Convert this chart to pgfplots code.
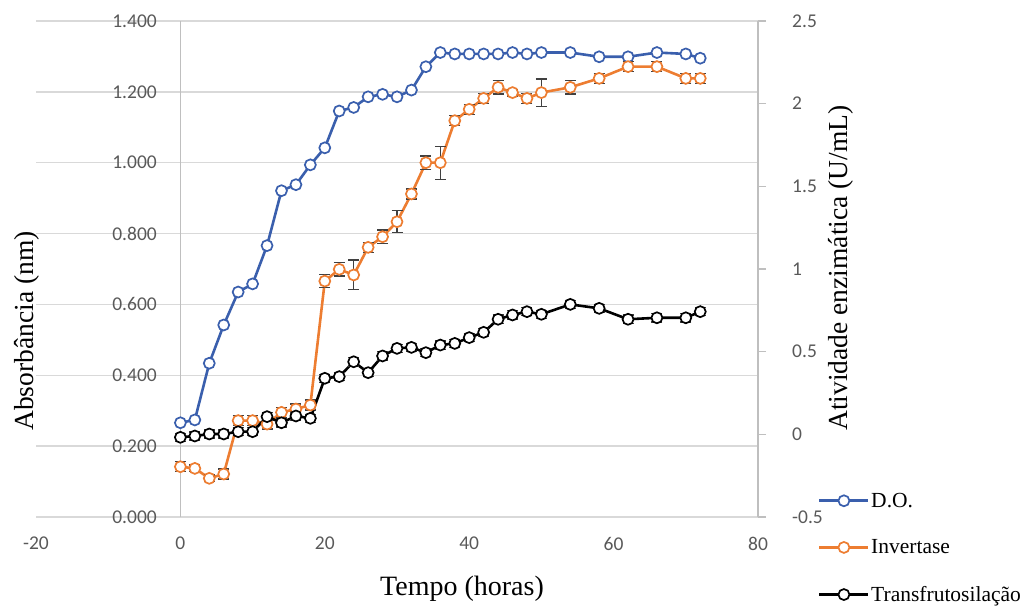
\documentclass[border=0pt]{standalone}
\usepackage{fontspec}
\setmainfont{Liberation Serif}
\newfontfamily\tickfont{Carlito}
\usepackage{pgfplots}
\usepackage{pgfplotstable}
\pgfplotsset{compat=1.18}

\definecolor{doblue}{HTML}{3A5FAD}
\definecolor{invorange}{HTML}{ED7D31}
\definecolor{gridgray}{HTML}{D9D9D9}
\definecolor{axisgray}{HTML}{BFBFBF}
\definecolor{ticktext}{HTML}{595959}

% D.O. (left axis)
\pgfplotstableread{
x y
0 0.266
2 0.274
4 0.434
6 0.542
8 0.635
10 0.658
12 0.766
14 0.921
16 0.938
18 0.994
20 1.042
22 1.146
24 1.156
26 1.186
28 1.193
30 1.186
32 1.205
34 1.271
36 1.311
38 1.307
40 1.307
42 1.307
44 1.307
46 1.311
48 1.307
50 1.311
54 1.311
58 1.299
62 1.299
66 1.311
70 1.307
72 1.295
}\dotable

% Invertase (right axis), with error
\pgfplotstableread{
x y e
0 -0.196 0.03
2 -0.206 0.02
4 -0.266 0.02
6 -0.240 0.03
8 0.083 0.03
10 0.083 0.03
12 0.062 0.03
14 0.133 0.03
16 0.153 0.03
18 0.177 0.03
20 0.927 0.04
22 0.998 0.04
24 0.964 0.09
26 1.131 0.03
28 1.195 0.04
30 1.286 0.067
32 1.454 0.03
34 1.643 0.04
36 1.643 0.10
38 1.897 0.03
40 1.966 0.03
42 2.032 0.03
44 2.099 0.04
46 2.067 0.02
48 2.032 0.03
50 2.067 0.083
54 2.099 0.04
58 2.153 0.03
62 2.224 0.03
66 2.224 0.03
70 2.153 0.03
72 2.153 0.03
}\invtable

% Transfrutosilacao (right axis), with error
\pgfplotstableread{
x y e
0 -0.018 0.025
2 -0.010 0.025
4 0.002 0.025
6 0.002 0.025
8 0.016 0.025
10 0.016 0.025
12 0.107 0.025
14 0.070 0.025
16 0.111 0.025
18 0.097 0.025
20 0.339 0.025
22 0.349 0.025
24 0.439 0.025
26 0.373 0.025
28 0.474 0.025
30 0.520 0.025
32 0.526 0.025
34 0.494 0.025
36 0.540 0.025
38 0.550 0.025
40 0.585 0.025
42 0.617 0.025
44 0.696 0.025
46 0.722 0.025
48 0.742 0.025
50 0.726 0.025
54 0.786 0.025
58 0.762 0.025
62 0.696 0.025
66 0.705 0.025
70 0.705 0.025
72 0.742 0.025
}\trtable

\pgfplotsset{
  tickfnt/.style={font=\tickfont\fontsize{19.5}{20}\selectfont, text=ticktext},
  serie/.style={line width=2.6pt, mark=*, mark size=5.5pt,
    mark options={draw=#1, fill=white, line width=1.7pt, solid}, #1},
  ebars/.style={error bars/.cd, y dir=both, y explicit,
    error bar style={black!75, line width=1.3pt},
    error mark options={rotate=90, mark size=5.5pt, black!75, line width=1.3pt}},
}

\begin{document}
\begin{tikzpicture}[x=1pt,y=1pt]
\path[use as bounding box] (0,0) rectangle (1033,606);

\begin{axis}[
  at={(36pt,89pt)}, anchor=south west,
  scale only axis, width=722pt, height=496pt,
  xmin=-20, xmax=80, ymin=0, ymax=1.4,
  axis line style={draw=none},
  tick style={draw=none},
  xtick={-20,0,20,40,60,80},
  xticklabels={-20,0,20,40,60,80},
  ytick={0,0.2,0.4,0.6,0.8,1.0,1.2,1.4},
  yticklabels={0.000,0.200,0.400,0.600,0.800,1.000,1.200,1.400},
  ymajorgrids, major grid style={gridgray, line width=1.4pt},
  ticklabel style={tickfnt},
  yticklabel style={anchor=east, inner sep=0pt, xshift=121pt},
  xticklabel style={anchor=north, inner sep=0pt, yshift=-20pt},
  clip=false,
]
\draw[axisgray, line width=1.4pt] (axis cs:0,0) -- (axis cs:0,1.4);
\addplot[serie=doblue] table {\dotable};
\end{axis}

\begin{axis}[
  at={(36pt,89pt)}, anchor=south west,
  scale only axis, width=722pt, height=496pt,
  xmin=-20, xmax=80, ymin=-0.5, ymax=2.5,
  axis x line=none,
  axis y line*=right,
  y axis line style={axisgray, line width=1.4pt, -},
  ytick={-0.5,0,0.5,1,1.5,2,2.5},
  yticklabels={-0.5,0,0.5,1,1.5,2,2.5},
  tick align=outside, major tick length=8pt,
  ytick style={axisgray, line width=1.4pt},
  yticklabel style={tickfnt, anchor=west, inner sep=0pt, xshift=26pt},
  clip=false,
  legend style={at={(1.083,0.052)}, anchor=north west, draw=none, fill=none,
    font=\fontsize{21.5}{24}\selectfont, row sep=28pt, inner sep=0pt,
    cells={anchor=west}, nodes={inner sep=1.5pt}},
  legend image code/.code={\draw[mark repeat=2, mark phase=2]
    plot coordinates {(0pt,0pt) (24.5pt,0pt) (49pt,0pt)};},
]
\addlegendimage{serie=doblue}
\addlegendentry{D.O.}
\addplot[serie=invorange, ebars] table[y error=e] {\invtable};
\addlegendentry{Invertase}
\addplot[serie=black, ebars] table[y error=e] {\trtable};
\addlegendentry{Transfrutosilação}
\end{axis}

\node[font=\fontsize{28}{30}\selectfont, anchor=base] at (462,11) {Tempo (horas)};
\node[font=\fontsize{27.5}{30}\selectfont, anchor=base, rotate=90] at (33,275) {Absorbância (nm)};
\node[font=\fontsize{27.5}{30}\selectfont, anchor=base, rotate=90] at (847,338) {Atividade enzimática (U/mL)};
\end{tikzpicture}
\end{document}
